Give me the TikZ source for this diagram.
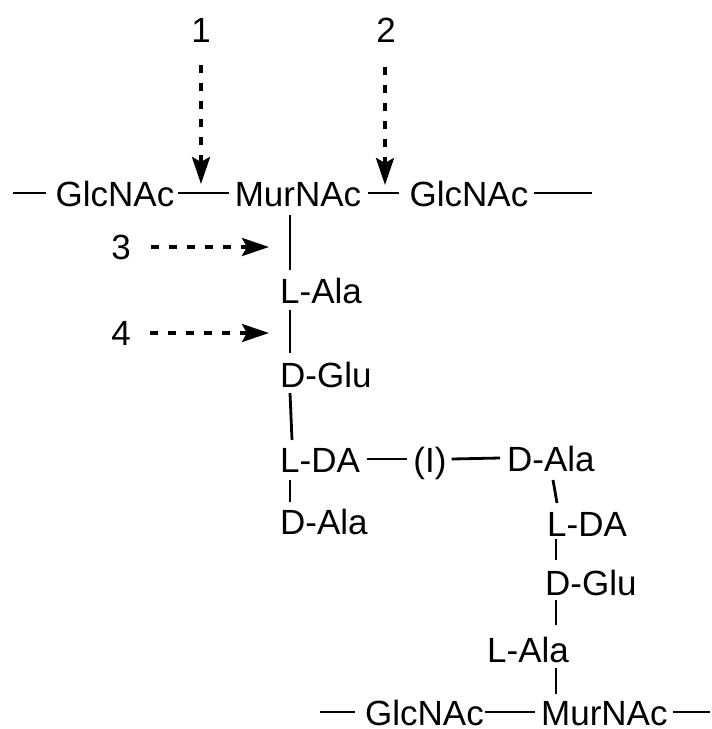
\documentclass[tikz,border=0pt]{standalone}
\usepackage{fontspec}
\setmainfont{Liberation Sans}
\usetikzlibrary{arrows.meta,calc}
\begin{document}
\begin{tikzpicture}[x=1pt,y=-1pt,
  lbl/.style={inner sep=0pt,anchor=base,text depth=0pt,font=\fontsize{35}{40}\selectfont},
  bond/.style={line width=2.8pt},
  dasharrow/.style={line width=3.6pt,dash pattern=on 8pt off 10pt,
    -{Stealth[length=27pt,width=18pt,inset=5pt]}}]
\useasboundingbox (0,0) rectangle (712,729);

% glycan strand, upper
\node[lbl] (g1) at (115,206) {GlcNAc};
\node[lbl] (m1) at (298,206) {MurNAc};
\node[lbl] (g2) at (469,206) {GlcNAc};
\coordinate (e1) at (13,193);
\coordinate (e2) at (592,193);
\draw[bond] (e1) -- ($(g1.base west)+(-9,-13)$);
\draw[bond] ($(g1.base east)+(3,-13)$) -- ($(m1.base west)+(-6,-13)$);
\draw[bond] ($(m1.base east)+(7,-13)$) -- ($(g2.base west)+(-10,-13)$);
\draw[bond] ($(g2.base east)+(5,-13)$) -- (e2);

% cleavage sites
\node[lbl] (n1) at (201,42) {1};
\node[lbl] (n2) at (386,42) {2};
\node[lbl] (n3) at (121,259) {3};
\node[lbl] (n4) at (121,345) {4};
\coordinate (t1) at (201,184);
\coordinate (t2) at (385,185);
\coordinate (t3) at (269,247);
\coordinate (t4) at (269,333);
\draw[dasharrow] ($(n1.base)+(0,23)$) -- (t1);
\draw[dasharrow] ($(n2.base)+(-1,25)$) -- (t2);
\draw[dasharrow] ($(n3.base east)+(20,-12)$) -- (t3);
\draw[dasharrow] ($(n4.base east)+(19,-12)$) -- (t4);

% stem peptide, upper
\node[lbl,anchor=base west] (a1) at (280,303) {L-Ala};
\node[lbl,anchor=base west] (q1) at (280,387) {D-Glu};
\node[lbl,anchor=base west] (k1) at (280,472) {L-DA};
\node[lbl,anchor=base west] (d1) at (280,534) {D-Ala};
\draw[bond] (290,215) -- (290,270);
\draw[bond] (290,310) -- (290,353);
\draw[bond] (290,393) -- (292,440);
\draw[bond] (290,480) -- (290,502);

% cross-bridge
\node[lbl] (br) at (430,472) {(I)};
\draw[bond] ($(k1.base east)+(7,-13)$) -- ($(br.base west)+(-6,-13)$);
\node[lbl,anchor=base west] (d2) at (507,471) {D-Ala};
\draw[bond] ($(br.base east)+(5,-13)$) -- ($(d2.base west)+(-7,-13)$);

% stem peptide, lower
\node[lbl,anchor=base west] (k2) at (547,536) {L-DA};
\node[lbl,anchor=base west] (q2) at (545,595) {D-Glu};
\node[lbl,anchor=base west] (a2) at (487,662) {L-Ala};
\draw[bond] (556,539) -- (556,560);
\draw[bond] (553,480) -- (557,503);
\draw[bond] (556,600) -- (556,625);
\draw[bond] (556,668) -- (556,694);

% glycan strand, lower
\node[lbl,anchor=base west] (g3) at (365,725) {GlcNAc};
\node[lbl,anchor=base west] (m2) at (541,725) {MurNAc};
\coordinate (e3) at (320,712);
\coordinate (e4) at (710,712);
\draw[bond] (e3) -- ($(g3.base west)+(-10,-13)$);
\draw[bond] ($(g3.base east)+(1,-13)$) -- ($(m2.base west)+(-6,-13)$);
\draw[bond] ($(m2.base east)+(5,-13)$) -- (e4);
\end{tikzpicture}
\end{document}
